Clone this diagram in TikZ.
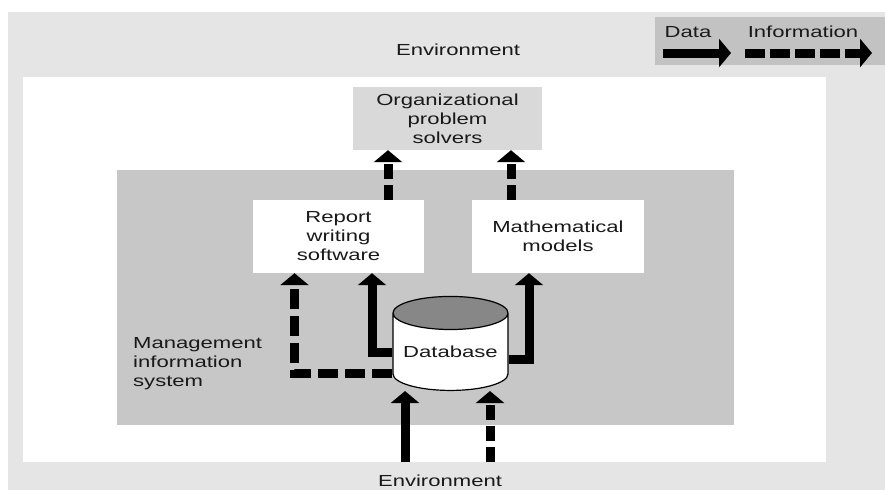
\documentclass[tikz,border=0pt]{standalone}
\usepackage{fontspec}
\setmainfont{Liberation Sans}[FakeStretch=1.38]
\usetikzlibrary{arrows.meta,shapes.geometric}

\def\EnvFill{black!10}
\def\MisFill{black!22}
\def\OrgFill{black!15}
\def\KeyFill{black!24}
\def\TopFill{black!47}

\tikzset{
  txt/.style={inner sep=0pt, text=black!90, font=\fontsize{16}{19}\selectfont},
  box/.style={txt, fill=white, align=center},
  data/.style={line width=9pt, -{Triangle[width=28pt,length=12pt]}},
  info/.style={data, dash pattern=on 15pt off 6pt},
}

\begin{document}
\begin{tikzpicture}[x=1pt,y=-1pt]
  \useasboundingbox (0,0) rectangle (885,490);

  % --- Fondos ---
  \fill[\EnvFill] (8,12) rectangle (885,490);
  \fill[white] (23,77) rectangle (826,462);
  \fill[\MisFill] (117,170) rectangle (734,425);
  \fill[\KeyFill] (655,17) rectangle (885,65);

  \node[txt] (envtop) at (458,50) {Environment};
  \node[txt] (envbot) at (440,481) {Environment};
  \node[txt, align=left, anchor=west] (mis) at (133,364) {Management\\information\\system};

  % --- Cajas ---
  \node[box, fill=\OrgFill, minimum width=189pt, minimum height=63pt] (org) at (447.5,118.5) {Organizational\\problem\\solvers};
  \node[box, minimum width=171pt, minimum height=73pt] (rep) at (338.5,236.5) {Report\\writing\\software};
  \node[box, minimum width=172pt, minimum height=73pt] (math) at (558,236.5) {Mathematical\\models};
  \node[txt, draw=black, line width=1.2pt, cylinder, shape border rotate=90, aspect=0.35,
        minimum width=115pt, minimum height=94pt, cylinder uses custom fill,
        cylinder body fill=white, cylinder end fill=\TopFill] (db) at (450.5,352) {Database};

  % --- Leyenda ---
  \node[txt] (kdata) at (688,32) {Data};
  \node[txt] (kinfo) at (803,32) {Information};
  \coordinate (k1) at (663,53);
  \coordinate (k2) at (745,53);
  \draw[data] (k1) -- ++(68,0);
  \draw[info, dash pattern=on 20pt off 5pt] (k2) -- ++(127,0);

  % --- Flechas ---
  \coordinate (in1) at (405,462);
  \coordinate (in2) at (490,462);
  \draw[data] (in1) -- (in1 |- db.south);
  \draw[info] (in2) -- (in2 |- db.south);
  \draw[data] (db.west) -| ([xshift=33.5pt]rep.south);
  \draw[info, dash pattern=on 20pt off 7pt] ([yshift=-21pt]db.west) -| ([xshift=-44pt]rep.south);
  \draw[data] ([yshift=-7pt]db.east) -| ([xshift=-29pt]math.south);
  \draw[info] ([xshift=49.5pt]rep.north) -- ([xshift=49.5pt]rep.north |- org.south);
  \draw[info] ([xshift=-47pt]math.north) -- ([xshift=-47pt]math.north |- org.south);
\end{tikzpicture}
\end{document}
